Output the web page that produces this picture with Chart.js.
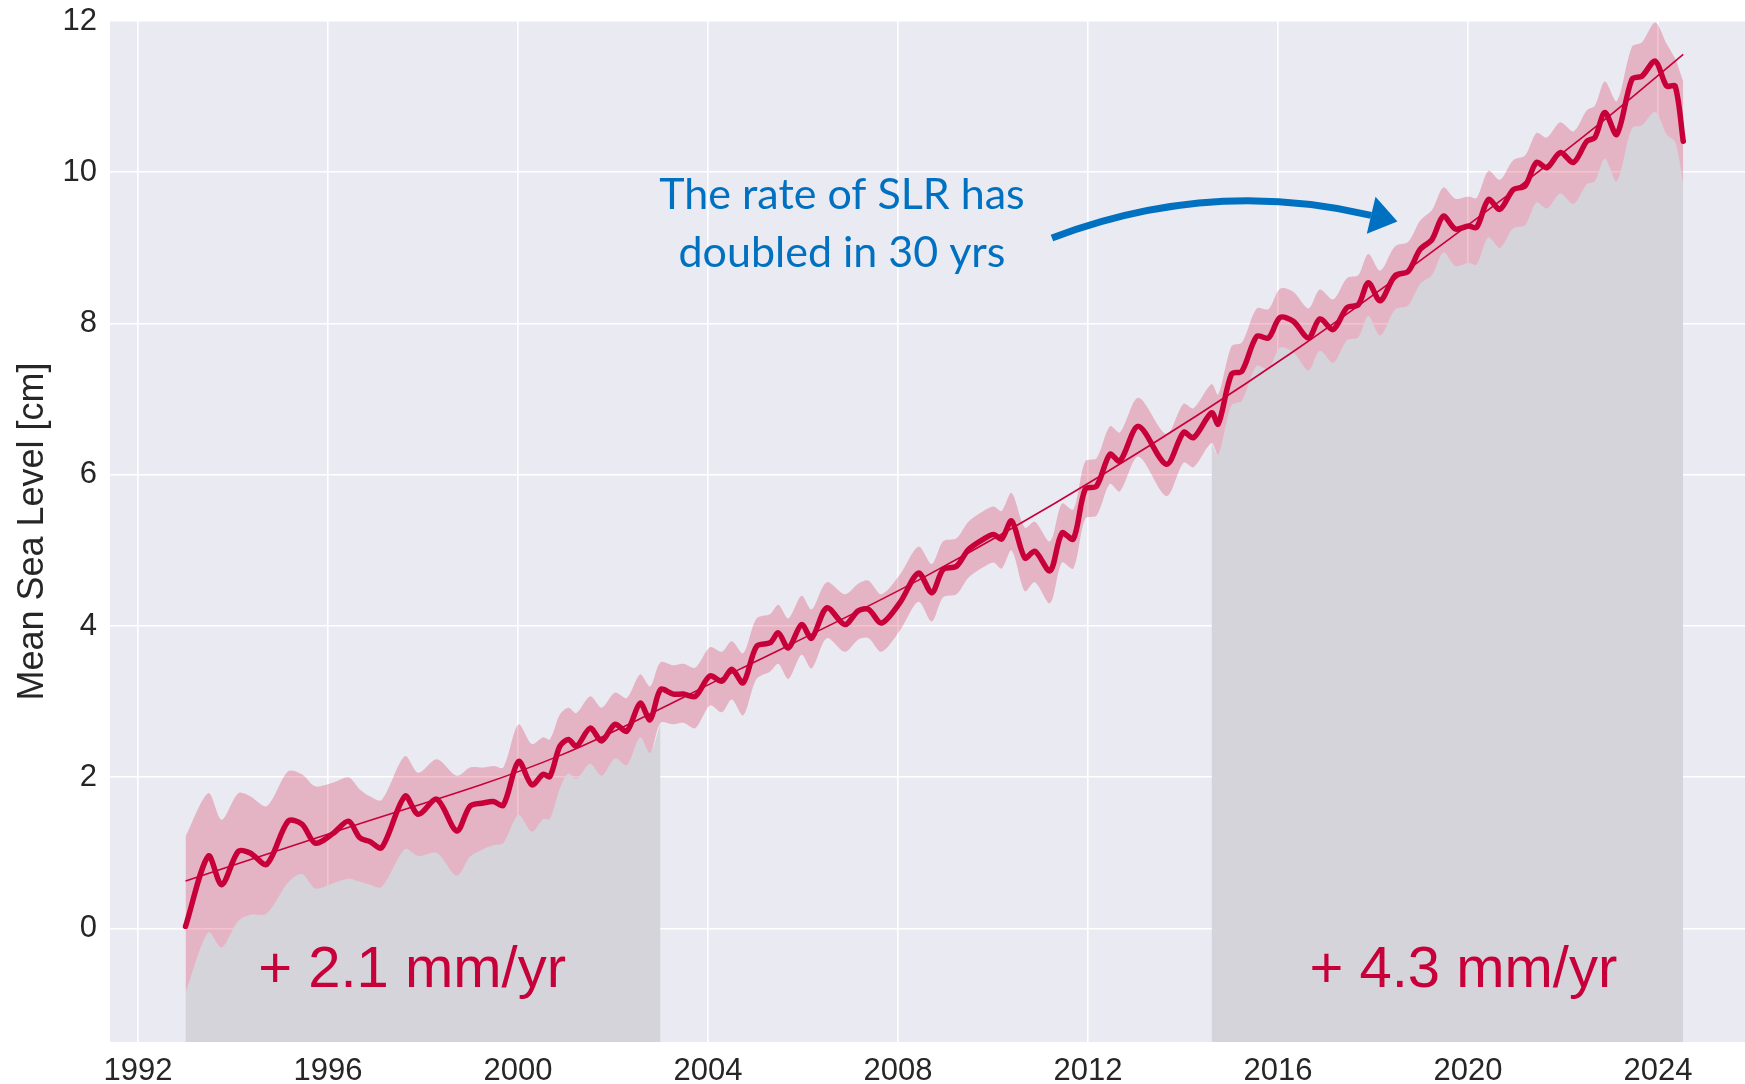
<!DOCTYPE html>
<html>
<head>
<meta charset="utf-8">
<script src="https://cdn.jsdelivr.net/npm/chart.js@4.4.1/dist/chart.umd.min.js"></script>
<style>
  html, body { margin: 0; padding: 0; background: #ffffff; }
  #wrap { width: 1745px; height: 1084px; }
</style>
</head>
<body>
<div id="wrap"><canvas id="slr" width="1745" height="1084"></canvas></div>
<script>
// sampling years of the smoothed GMSL curve
const years = [
  1993.00, 1993.48, 1993.76, 1994.11, 1994.36, 1994.71, 1995.16, 1995.45, 1995.73, 1996.11,
  1996.43, 1996.67, 1996.88, 1997.13, 1997.62, 1997.90, 1998.29, 1998.71, 1998.99, 1999.27,
  1999.48, 1999.69, 2000.01, 2000.29, 2000.53, 2000.67, 2000.88, 2001.06, 2001.23, 2001.52,
  2001.76, 2002.04, 2002.29, 2002.57, 2002.78, 2003.00, 2003.27, 2003.48, 2003.73, 2004.04,
  2004.29, 2004.50, 2004.74, 2005.02, 2005.31, 2005.48, 2005.69, 2005.97, 2006.18, 2006.50,
  2006.88, 2007.16, 2007.38, 2007.65, 2008.04, 2008.43, 2008.71, 2008.95, 2009.23, 2009.48,
  2009.80, 2010.01, 2010.18, 2010.39, 2010.67, 2010.88, 2011.20, 2011.45, 2011.69, 2011.94,
  2012.18, 2012.46, 2012.67, 2013.06, 2013.65, 2014.01, 2014.22, 2014.60, 2014.74, 2015.02,
  2015.24, 2015.55, 2015.80, 2016.04, 2016.32, 2016.64, 2016.88, 2017.16, 2017.45, 2017.69,
  2017.90, 2018.15, 2018.46, 2018.74, 2018.99, 2019.24, 2019.48, 2019.73, 2020.01, 2020.18,
  2020.43, 2020.67, 2020.95, 2021.20, 2021.44, 2021.66, 2021.94, 2022.22, 2022.50, 2022.67,
  2022.88, 2023.13, 2023.45, 2023.66, 2023.94, 2024.18, 2024.36, 2024.53
];

// mean sea level [cm]
const meanLevel = [
  0.03, 0.96, 0.58, 1.02, 1.00, 0.85, 1.42, 1.38, 1.13, 1.26,
  1.42, 1.20, 1.15, 1.07, 1.75, 1.51, 1.71, 1.29, 1.62, 1.66,
  1.68, 1.63, 2.21, 1.90, 2.04, 2.01, 2.41, 2.50, 2.41, 2.65,
  2.48, 2.70, 2.61, 2.98, 2.76, 3.16, 3.10, 3.10, 3.07, 3.34,
  3.27, 3.43, 3.25, 3.73, 3.78, 3.91, 3.71, 4.02, 3.84, 4.24,
  4.02, 4.20, 4.22, 4.04, 4.31, 4.70, 4.44, 4.75, 4.79, 5.01,
  5.15, 5.21, 5.15, 5.39, 4.90, 4.99, 4.73, 5.23, 5.15, 5.81,
  5.85, 6.27, 6.18, 6.64, 6.14, 6.56, 6.49, 6.82, 6.67, 7.33,
  7.37, 7.83, 7.81, 8.08, 8.03, 7.81, 8.06, 7.92, 8.21, 8.25,
  8.54, 8.30, 8.63, 8.69, 8.98, 9.11, 9.42, 9.25, 9.29, 9.27,
  9.64, 9.51, 9.77, 9.82, 10.13, 10.06, 10.26, 10.13, 10.41, 10.46,
  10.79, 10.50, 11.23, 11.27, 11.47, 11.14, 11.14, 10.41
];

// upper / lower edge of the uncertainty band [cm]
const bandTop = [
  1.22, 1.79, 1.44, 1.79, 1.75, 1.62, 2.08, 2.04, 1.88, 1.93,
  2.00, 1.84, 1.75, 1.70, 2.28, 2.06, 2.24, 2.02, 2.13, 2.13,
  2.15, 2.13, 2.70, 2.44, 2.53, 2.50, 2.83, 2.92, 2.85, 3.07,
  2.92, 3.12, 3.05, 3.36, 3.20, 3.52, 3.48, 3.50, 3.45, 3.72,
  3.66, 3.80, 3.64, 4.10, 4.16, 4.28, 4.10, 4.40, 4.22, 4.58,
  4.42, 4.56, 4.60, 4.42, 4.68, 5.05, 4.82, 5.12, 5.16, 5.38,
  5.52, 5.58, 5.52, 5.76, 5.30, 5.38, 5.12, 5.62, 5.54, 6.18,
  6.22, 6.64, 6.56, 7.02, 6.54, 6.94, 6.88, 7.20, 7.06, 7.70,
  7.75, 8.20, 8.19, 8.46, 8.42, 8.20, 8.45, 8.32, 8.60, 8.64,
  8.92, 8.70, 9.02, 9.08, 9.36, 9.50, 9.80, 9.65, 9.68, 9.66,
  10.02, 9.90, 10.16, 10.22, 10.52, 10.46, 10.66, 10.54, 10.82, 10.88,
  11.20, 10.94, 11.66, 11.72, 11.98, 11.70, 11.50, 11.20
];
const bandBottom = [
  -0.85, -0.05, -0.25, 0.10, 0.18, 0.20, 0.61, 0.72, 0.53, 0.60,
  0.66, 0.62, 0.58, 0.55, 1.05, 0.96, 1.00, 0.70, 0.95, 1.05,
  1.10, 1.13, 1.50, 1.28, 1.45, 1.45, 1.85, 2.05, 1.98, 2.18,
  2.02, 2.25, 2.16, 2.53, 2.32, 2.72, 2.70, 2.72, 2.65, 2.95,
  2.86, 3.03, 2.82, 3.30, 3.40, 3.50, 3.30, 3.62, 3.44, 3.84,
  3.66, 3.82, 3.84, 3.66, 3.94, 4.32, 4.06, 4.38, 4.42, 4.64,
  4.78, 4.84, 4.76, 5.00, 4.46, 4.58, 4.30, 4.84, 4.76, 5.42,
  5.46, 5.88, 5.78, 6.24, 5.72, 6.16, 6.10, 6.42, 6.26, 6.92,
  6.98, 7.44, 7.40, 7.68, 7.62, 7.38, 7.64, 7.48, 7.78, 7.82,
  8.10, 7.84, 8.18, 8.24, 8.52, 8.64, 8.94, 8.76, 8.80, 8.78,
  9.14, 9.00, 9.26, 9.30, 9.60, 9.52, 9.72, 9.58, 9.84, 9.88,
  10.18, 9.88, 10.58, 10.62, 10.80, 10.50, 10.40, 9.85
];

// fitted (accelerating) trend line
const trendYears = [1993.0, 1996.2, 2000.85, 2004.67, 2008.5, 2012.25, 2016.3, 2020.25, 2023.06, 2024.53];
const trendLevel = [0.63, 1.29, 2.28, 3.43, 4.63, 5.98, 7.62, 9.42, 10.79, 11.56];

// periods shaded in grey (start, end year)
const shadedPeriods = [[1993.0, 2003.0], [2014.6, 2024.53]];

const xTicks = [1992, 1996, 2000, 2004, 2008, 2012, 2016, 2020, 2024];
const yTicks = [0, 2, 4, 6, 8, 10, 12];

const RED = '#C8003A';
const BLUE = '#0070C0';
const TEXT = '#262626';

const pts = (xs, ys) => xs.map((x, i) => ({ x: x, y: ys[i] }));
const inShade = x => shadedPeriods.some(p => x >= p[0] - 1e-6 && x <= p[1] + 1e-6);
const shadeData = years.map((x, i) => ({ x: x, y: inShade(x) ? bandBottom[i] : null }));

const plotBackground = {
  id: 'plotBackground',
  beforeDraw(chart) {
    const { ctx, chartArea: a } = chart;
    ctx.save();
    ctx.fillStyle = '#EAEAF2';
    ctx.fillRect(a.left, a.top, a.right - a.left, a.bottom - a.top);
    ctx.restore();
  }
};

const annotations = {
  id: 'annotations',
  afterDatasetsDraw(chart) {
    const { ctx } = chart;
    const xs = chart.scales.x, ys = chart.scales.y;
    const px = v => xs.getPixelForValue(v);
    const py = v => ys.getPixelForValue(v);
    ctx.save();

    // rate labels
    ctx.font = '58px "Liberation Sans", Arial, sans-serif';
    ctx.fillStyle = RED;
    ctx.textBaseline = 'alphabetic';
    ctx.textAlign = 'left';
    ctx.fillText('+ 2.1 mm/yr', px(1994.53), py(-0.77));
    ctx.textAlign = 'right';
    ctx.fillText('+ 4.3 mm/yr', px(2023.14), py(-0.77));

    // blue note
    ctx.font = '43px Lato, "Open Sans", sans-serif';
    ctx.fillStyle = BLUE;
    ctx.textAlign = 'center';
    ctx.textBaseline = 'middle';
    ctx.fillText('The rate of SLR has', px(2006.82), py(9.70));
    ctx.fillText('doubled in 30 yrs', px(2006.82), py(8.93));

    // curved arrow
    const p0 = [px(2011.24), py(9.13)];
    const c = [px(2014.58), py(9.93)];
    const p2 = [px(2017.96), py(9.43)];
    ctx.strokeStyle = BLUE;
    ctx.lineWidth = 7;
    ctx.lineCap = 'butt';
    ctx.beginPath();
    ctx.moveTo(p0[0], p0[1]);
    ctx.quadraticCurveTo(c[0], c[1], p2[0], p2[1]);
    ctx.stroke();
    const ang = Math.atan2(p2[1] - c[1], p2[0] - c[0]);
    const len = 27, half = 19;
    const tip = [p2[0] + len * Math.cos(ang), p2[1] + len * Math.sin(ang)];
    ctx.fillStyle = BLUE;
    ctx.beginPath();
    ctx.moveTo(tip[0], tip[1]);
    ctx.lineTo(p2[0] - half * Math.sin(ang), p2[1] + half * Math.cos(ang));
    ctx.lineTo(p2[0] + half * Math.sin(ang), p2[1] - half * Math.cos(ang));
    ctx.closePath();
    ctx.fill();

    ctx.restore();
  }
};

const tickFont = { family: '"Liberation Sans", Arial, sans-serif', size: 31 };

new Chart(document.getElementById('slr'), {
  type: 'line',
  data: {
    datasets: [
      { // 0: mean sea level
        data: pts(years, meanLevel),
        borderColor: RED, borderWidth: 5.5, tension: 0.3,
        borderJoinStyle: 'round', borderCapStyle: 'round',
        pointRadius: 0, fill: false, order: 1
      },
      { // 1: trend
        data: pts(trendYears, trendLevel),
        borderColor: RED, borderWidth: 1.6, cubicInterpolationMode: 'monotone',
        pointRadius: 0, fill: false, order: 2
      },
      { // 2: band lower edge
        data: pts(years, bandBottom),
        borderWidth: 0, borderColor: 'rgba(0,0,0,0)', tension: 0.3,
        pointRadius: 0, fill: false, order: 3
      },
      { // 3: band upper edge, filled down to the lower edge
        data: pts(years, bandTop),
        borderWidth: 0, borderColor: 'rgba(0,0,0,0)', tension: 0.3,
        backgroundColor: 'rgba(215,40,80,0.28)',
        pointRadius: 0, fill: { target: 2 }, order: 4
      },
      { // 4: grey shading of the two periods
        data: shadeData,
        borderWidth: 0, borderColor: 'rgba(0,0,0,0)', tension: 0.3,
        backgroundColor: '#D4D4DA', spanGaps: false,
        pointRadius: 0, fill: 'start', order: 5
      }
    ]
  },
  options: {
    responsive: false,
    animation: false,
    devicePixelRatio: 1,
    layout: { padding: { top: 21, right: 0, bottom: 0, left: 0 } },
    plugins: { legend: { display: false }, tooltip: { enabled: false } },
    scales: {
      x: {
        type: 'linear', min: 1991.41, max: 2025.83,
        afterBuildTicks: s => { s.ticks = xTicks.map(v => ({ value: v })); },
        afterFit: s => { s.height = 42; s.paddingLeft = 0; s.paddingRight = 0; },
        ticks: { font: tickFont, color: TEXT, padding: 11, maxRotation: 0, callback: v => String(v) },
        grid: { color: '#ffffff', lineWidth: 1.6, drawTicks: false },
        border: { display: false }
      },
      y: {
        type: 'linear', min: -1.5, max: 12,
        afterBuildTicks: s => { s.ticks = yTicks.map(v => ({ value: v })); },
        afterFit: s => { s.width = 110; s.paddingTop = 0; s.paddingBottom = 0; },
        ticks: { font: tickFont, color: TEXT, padding: 13, callback: v => String(v) },
        grid: { color: '#ffffff', lineWidth: 1.6, drawTicks: false },
        border: { display: false },
        title: {
          display: true, text: 'Mean Sea Level [cm]', color: TEXT,
          font: { family: '"Liberation Sans", Arial, sans-serif', size: 36 },
          padding: { top: 11, bottom: 0 }
        }
      }
    }
  },
  plugins: [plotBackground, annotations]
});
</script>
</body>
</html>
